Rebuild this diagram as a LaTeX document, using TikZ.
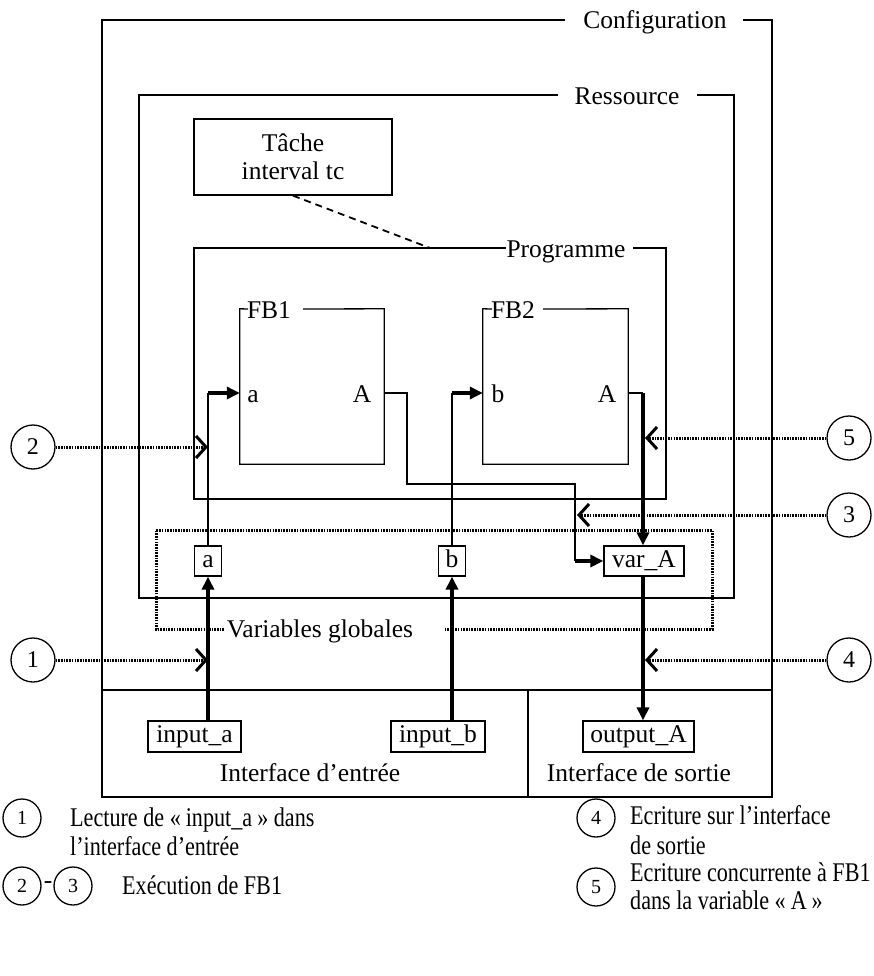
\documentclass[tikz,border=0pt]{standalone}
\usepackage{fontspec}
\setmainfont{Liberation Serif}
\newfontfamily\legendfont[FakeStretch=0.82]{Liberation Serif}
\usetikzlibrary{arrows.meta}
\begin{document}
\begin{tikzpicture}[x=1pt,y=-1pt,
  lbl/.style={font=\fontsize{25.5}{28}\selectfont, inner sep=0pt},
  leg/.style={font=\legendfont\fontsize{27}{30}\selectfont, inner sep=0pt},
  frame/.style={line width=1.8pt},
  wire/.style={line width=1.3pt},
  heavy/.style={line width=3.4pt, -{Triangle[length=13pt,width=12pt]}},
  varbox/.style={draw, line width=1.3pt, font=\fontsize{25.5}{28}\selectfont, inner sep=0pt, minimum height=30pt, text height=18pt, text depth=6pt},
  dotline/.style={line width=3pt, dash pattern=on 1.6pt off 1.1pt},
  dotarrow/.style={dotline, -{Straight Barb[length=10pt,width=22pt,line width=3pt]}},
  num/.style={circle, draw, line width=1.3pt, minimum size=44pt, inner sep=0pt, font=\fontsize{24}{24}\selectfont},
  lnum/.style={circle, draw, line width=1.3pt, minimum size=38pt, inner sep=0pt, font=\fontsize{20}{20}\selectfont},
  every node/.append style={text=black}
]
\path[use as bounding box] (0,0) rectangle (873,976);

% Configuration
\node[lbl, anchor=base] (cfgT) at (655,29) {Configuration};
\draw[frame] (565,20) -- (102,20) -- (102,797) -- (772,797) -- (772,20) -- (743,20);
\draw[frame] (102,690) -- (772,690);
\draw[frame] (528,690) -- (528,797);

% Ressource
\node[lbl, anchor=base] (resT) at (627,105) {Ressource};
\draw[frame] (558,95) -- (139,95) -- (139,598) -- (734,598) -- (734,95) -- (697,95);

% Task
\node[draw, wire, minimum width=198pt, minimum height=76pt] (task) at (293,157) {};
\node[lbl, anchor=base] (taskA) at (293,152) {Tâche};
\node[lbl, anchor=base] (taskB) at (293,180) {interval tc};

% Programme
\node[lbl, anchor=base] (progT) at (566,257) {Programme};
\draw[wire] (506,248) -- (194,248) -- (194,499) -- (666,499) -- (666,248) -- (633,248);
\coordinate (progTop) at (430,248);
\draw[line width=1.8pt, dash pattern=on 7pt off 5pt] (task.south) -- (progTop);

% FB1, FB2
\node[minimum width=144pt, minimum height=155pt, inner sep=0pt] (fb1) at (312,386.5) {};
\node[minimum width=145pt, minimum height=155pt, inner sep=0pt] (fb2) at (555.5,386.5) {};
\node[lbl, anchor=base] (fb1T) at (269,318) {FB1};
\node[lbl, anchor=base] (fb2T) at (513,318) {FB2};
\draw[wire] (248,309) -- (fb1.north west) -- (fb1.south west) -- (fb1.south east) -- (fb1.north east) -- (303,309);
\draw[wire] (492,309) -- (fb2.north west) -- (fb2.south west) -- (fb2.south east) -- (fb2.north east) -- (543,309);
\node[lbl, anchor=base] (pa) at (253,402) {a};
\node[lbl, anchor=base] (pA1) at (362,402) {A};
\node[lbl, anchor=base] (pb) at (498,402) {b};
\node[lbl, anchor=base] (pA2) at (607,402) {A};

% variables
\node[varbox, minimum width=27pt] (va) at (208,561) {a};
\node[varbox, minimum width=27pt] (vb) at (452,561) {b};
\node[varbox, minimum width=80pt] (vA) at (644,561) {var\_A};
\node[lbl, anchor=base] (vgT) at (320,637) {Variables globales};
\draw[dotline] (224,629) -- (156,629) -- (156,530) -- (712,530) -- (712,629) -- (445,629);

% interfaces
\node[varbox, minimum width=93pt, minimum height=31pt] (ina) at (194.5,736.5) {input\_a};
\node[varbox, minimum width=94pt, minimum height=31pt] (inb) at (438,736.5) {input\_b};
\node[varbox, minimum width=111pt, minimum height=31pt] (outA) at (638.5,736.5) {output\_A};
\node[lbl, anchor=base] (ifin) at (310,781) {Interface d’entrée};
\node[lbl, anchor=base] (ifout) at (639,781) {Interface de sortie};

% connectors
\coordinate (ya) at (0,393);
\coordinate (cA) at (208,393);
\coordinate (cB) at (452,393);
\draw[wire] (va.north) -- (cA);
\draw[heavy] (cA) -- (fb1.west |- ya);
\draw[wire] (vb.north) -- (cB);
\draw[heavy] (cB) -- (fb2.west |- ya);
\coordinate (k1) at (407,393);
\coordinate (k2) at (407,484);
\coordinate (k3) at (575,484);
\coordinate (k4) at (575,561);
\draw[wire] (fb1.east |- ya) -- (k1) -- (k2) -- (k3) -- (k4);
\draw[heavy] (k4) -- (vA.west);
\coordinate (k5) at (643,393);
\draw[wire] (fb2.east |- ya) -- (k5);
\draw[heavy] (k5) -- (vA.north -| k5);
\draw[heavy] (vA.south -| k5) -- (outA.north -| k5);
\draw[heavy] (ina.north -| va) -- (va.south);
\draw[heavy] (inb.north -| vb) -- (vb.south);

% numbered markers
\node[num] (n2) at (33,447) {2};
\node[num] (n1) at (33,660) {1};
\node[num] (n5) at (849,438) {5};
\node[num] (n3) at (849,515) {3};
\node[num] (n4) at (849,660) {4};
\coordinate (t2) at (208,447);
\coordinate (t1) at (208,660);
\coordinate (t5) at (645,438);
\coordinate (t3) at (577,515);
\coordinate (t4) at (645,660);
\draw[dotarrow] (n2) -- (t2);
\draw[dotarrow] (n1) -- (t1);
\draw[dotarrow] (n5) -- (t5);
\draw[dotarrow] (n3) -- (t3);
\draw[dotarrow] (n4) -- (t4);

% legend
\node[lnum] (l1) at (22,818) {1};
\node[leg, anchor=base west] (l1a) at (70,826) {Lecture de «\kern5pt input\_a\kern5pt» dans};
\node[leg, anchor=base west] (l1b) at (70,855) {l’interface d’entrée};
\node[lnum] (l4) at (596,818) {4};
\node[leg, anchor=base west] (l4a) at (630,824) {Ecriture sur l’interface};
\node[leg, anchor=base west] (l4b) at (630,854) {de sortie};
\node[lnum] (l2) at (22,886) {2};
\node[lbl] (ldash) at (48,885) {-};
\node[lnum] (l3) at (73,886) {3};
\node[leg, anchor=base west] (l3a) at (122,894) {Exécution de FB1};
\node[lnum] (l5) at (596,887) {5};
\node[leg, anchor=base west] (l5a) at (630,881) {Ecriture concurrente à FB1};
\node[leg, anchor=base west] (l5b) at (630,909) {dans la variable «\kern5pt A\kern5pt»};
\end{tikzpicture}
\end{document}
